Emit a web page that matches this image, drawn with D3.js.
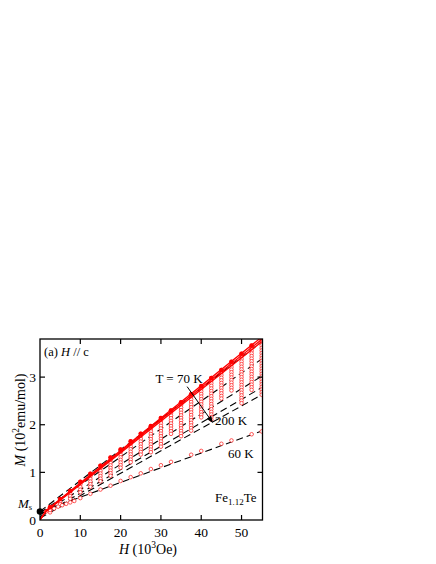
<!DOCTYPE html>
<html><head><meta charset="utf-8">
<script src="https://cdn.jsdelivr.net/npm/d3@7"></script>
<style>body{margin:0;background:#fff}svg{display:block}text{font-family:"Liberation Serif","Times New Roman",serif;fill:#000}</style>
</head><body>
<script>
// ---- data ----
const xTicks = [0,10,20,30,40,50];
const yTicks = [0,1,2,3];
// field values of the temperature-sweep columns (10^3 Oe)
const colH      = [2.5,5,7.5,10,12.5,15,17.5,20,22.5,25,27.5,30,32.5,35,37.5,40,42.5,45,47.5,50,52.5,55];
const colTop    = [0.27,0.44,0.61,0.80,0.97,1.14,1.31,1.48,1.65,1.81,1.97,2.14,2.30,2.47,2.64,2.81,2.98,3.15,3.32,3.49,3.66,3.83];
const colBottom = [0.16,0.30,0.42,0.55,0.66,0.78,0.90,1.08,1.20,1.33,1.42,1.52,1.80,1.72,1.86,2.15,2.08,2.50,2.70,2.42,2.72,2.62];
// red solid M(H) curves near 70 K
const redH  = [0,1.5,55];
const red1  = [0,0.20,3.84];
const red2  = [0,0.19,3.79];
const red3  = [0,0.18,3.74];
// linear (dashed) fits, 70 K ... 200 K : M at H=0 and H=55
const fitM0  = [0.18,0.15,0.11,0.07,0.04];
const fitM55 = [3.74,3.38,3.02,2.78,2.63];
// 60 K
const h60 = [1.5,2.5,3.5,4.5,5.5,6.5,7.5,8.5,10,12.5,15,17.5,20,22.5,25,27.5,30,32.5,37.5,40,45,47.5,52.5,55];
const m60 = [0.18,0.21,0.24,0.28,0.31,0.34,0.37,0.40,0.46,0.55,0.64,0.72,0.82,0.90,0.98,1.07,1.15,1.22,1.37,1.45,1.60,1.67,1.80,1.86];
const fit60 = [0.17,1.87];
const Ms = 0.18;

// ---- drawing ----
const W=436,H=564;
const svg=d3.select("body").append("svg").attr("width",W).attr("height",H);
svg.append("rect").attr("width",W).attr("height",H).attr("fill","#fff");
const x=d3.scaleLinear().domain([0,55.2]).range([40,262.5]);
const y=d3.scaleLinear().domain([0,3.8]).range([520,339]);
const X0=x.range()[0],X1=x.range()[1],Y0=y.range()[0],Y1=y.range()[1];

svg.append("clipPath").attr("id","clip").append("rect")
  .attr("x",X0).attr("y",Y1).attr("width",X1-X0).attr("height",Y0-Y1);
const g=svg.append("g").attr("clip-path","url(#clip)");

// dashed fits
fitM0.forEach((m0,i)=>{
  g.append("line").attr("x1",x(0)).attr("y1",y(m0)).attr("x2",x(55)).attr("y2",y(fitM55[i]))
   .attr("stroke","#000").attr("stroke-width",1.1).attr("stroke-dasharray","7,4");
});
g.append("line").attr("x1",x(0)).attr("y1",y(fit60[0])).attr("x2",x(55)).attr("y2",y(fit60[1]))
 .attr("stroke","#000").attr("stroke-width",1.1).attr("stroke-dasharray","7,4");

// columns of open circles
const step=2.6;
colH.forEach((h,i)=>{
  const yt=y(colTop[i]), yb=y(colBottom[i]);
  for(let py=yt; py<=yb+0.01; py+=step){
    g.append("circle").attr("cx",x(h)).attr("cy",py).attr("r",1.8)
     .attr("fill","#fff").attr("stroke","#f22").attr("stroke-width",0.75);
  }
});
// 60 K circles
h60.forEach((h,i)=>{
  g.append("circle").attr("cx",x(h)).attr("cy",y(m60[i])).attr("r",1.8)
   .attr("fill","#fff").attr("stroke","#f22").attr("stroke-width",0.75);
});
// red solid lines
const line=d3.line().x((d,i)=>x(redH[i])).y(d=>y(d));
[red1,red2,red3].forEach(s=>{
  g.append("path").attr("d",line(s)).attr("fill","none").attr("stroke","#f00").attr("stroke-width",1.3);
});
// filled tops
colH.forEach((h,i)=>{
  g.append("circle").attr("cx",x(h)).attr("cy",y(colTop[i])).attr("r",2.3).attr("fill","#f00");
});

// frame and ticks
svg.append("rect").attr("x",X0).attr("y",Y1).attr("width",X1-X0).attr("height",Y0-Y1)
  .attr("fill","none").attr("stroke","#000").attr("stroke-width",1.3);
const ax=svg.append("g");
xTicks.forEach(t=>{
  if(t>0){
    ax.append("line").attr("x1",x(t)).attr("x2",x(t)).attr("y1",Y0).attr("y2",Y0-5).attr("stroke","#000").attr("stroke-width",1.2);
    ax.append("line").attr("x1",x(t)).attr("x2",x(t)).attr("y1",Y1).attr("y2",Y1+5).attr("stroke","#000").attr("stroke-width",1.2);
  }
  ax.append("text").attr("x",x(t)).attr("y",Y0+17).attr("text-anchor","middle").attr("font-size",13.5).text(t);
});
yTicks.forEach(t=>{
  if(t>0){
    ax.append("line").attr("x1",X0).attr("x2",X0+5).attr("y1",y(t)).attr("y2",y(t)).attr("stroke","#000").attr("stroke-width",1.2);
    ax.append("line").attr("x1",X1).attr("x2",X1-5).attr("y1",y(t)).attr("y2",y(t)).attr("stroke","#000").attr("stroke-width",1.2);
  }
  ax.append("text").attr("x",X0-4).attr("y",y(t)+4.5).attr("text-anchor","end").attr("font-size",13.5).text(t);
});

// Ms point
svg.append("circle").attr("cx",x(0)).attr("cy",y(Ms)).attr("r",3.3).attr("fill","#000");
const ms=svg.append("text").attr("x",18).attr("y",508).attr("font-size",13);
ms.append("tspan").attr("font-style","italic").text("M");
ms.append("tspan").attr("font-size",8.5).attr("dy",2).text("s");

// axis titles
const xl=svg.append("text").attr("x",148).attr("y",554).attr("text-anchor","middle").attr("font-size",14);
xl.append("tspan").attr("font-style","italic").text("H");
xl.append("tspan").text(" (10");
xl.append("tspan").attr("font-size",9.5).attr("dy",-6).text("3");
xl.append("tspan").attr("dy",6).text("Oe)");
const yl=svg.append("text").attr("transform","translate(25,420) rotate(-90)").attr("text-anchor","middle").attr("font-size",14);
yl.append("tspan").attr("font-style","italic").text("M");
yl.append("tspan").text(" (10");
yl.append("tspan").attr("font-size",9.5).attr("dy",-6).text("2");
yl.append("tspan").attr("dy",6).text("emu/mol)");

// annotations
const a=svg.append("text").attr("x",44).attr("y",356).attr("font-size",12.5);
a.append("tspan").text("(a)  ");
a.append("tspan").attr("font-style","italic").text("H");
a.append("tspan").text(" // c");
svg.append("text").attr("x",179).attr("y",383).attr("text-anchor","middle").attr("font-size",13).text("T = 70 K");
svg.append("text").attr("x",215).attr("y",425).attr("font-size",13).text("200 K");
svg.append("text").attr("x",228).attr("y",458).attr("font-size",13).text("60 K");
const fe=svg.append("text").attr("x",215).attr("y",502).attr("font-size",13);
fe.append("tspan").text("Fe");
fe.append("tspan").attr("font-size",9).attr("dy",3).text("1.12");
fe.append("tspan").attr("dy",-3).text("Te");
// arrow
svg.append("defs").append("marker").attr("id","ah").attr("viewBox","0 0 10 10").attr("refX",9).attr("refY",5)
  .attr("markerWidth",7).attr("markerHeight",7).attr("orient","auto")
  .append("path").attr("d","M0,1 L10,5 L0,9 Z").attr("fill","#000");
svg.append("line").attr("x1",x(36.5)).attr("y1",y(2.8)).attr("x2",x(42.8)).attr("y2",y(2.05))
  .attr("stroke","#000").attr("stroke-width",1).attr("marker-end","url(#ah)");
</script>
</body></html>
